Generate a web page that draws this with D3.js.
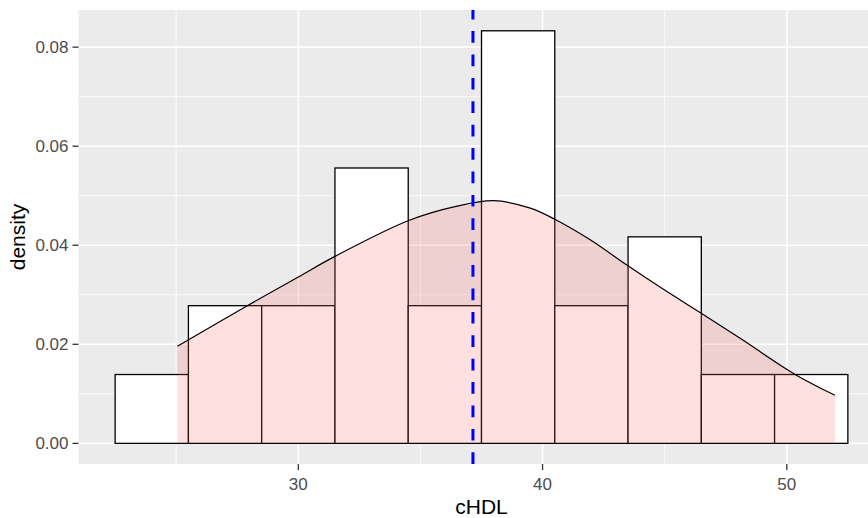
<!DOCTYPE html>
<html>
<head>
<meta charset="utf-8">
<script src="https://cdn.jsdelivr.net/npm/d3@7"></script>
<style>
  body { margin: 0; background: #fff; }
  svg { display: block; font-family: "Liberation Sans", Arial, sans-serif; }
</style>
</head>
<body>
<svg id="chart" width="868" height="518"></svg>
<script>
// histogram bins (left edge, width 3) and their density heights
const binStarts = [22.5, 25.5, 28.5, 31.5, 34.5, 37.5, 40.5, 43.5, 46.5, 49.5];
const binWidth = 3;
const binDensity = [0.0139, 0.0278, 0.0278, 0.0556, 0.0278, 0.0833, 0.0278, 0.0417, 0.0139, 0.0139];

// kernel density curve
const densX = [25.05, 27.84, 30.0, 31.52, 34.52, 36.5, 38.0, 39.5, 40.48, 41.95, 43.48, 44.95, 46.45, 48.09, 50.34, 51.97];
const densY = [0.0196, 0.0276, 0.0336, 0.0378, 0.0450, 0.0479, 0.0490, 0.0475, 0.0453, 0.0411, 0.0359, 0.0311, 0.0264, 0.0212, 0.0139, 0.0097];

// mean of cHDL (dashed line)
const meanHDL = 37.15;

// tick labels
const xTicks = [30, 40, 50];
const xMinor = [25, 35, 45];
const yTicks = [0, 0.02, 0.04, 0.06, 0.08];
const yMinor = [0.01, 0.03, 0.05, 0.07];

const svg = d3.select('#chart');

const panel = { left: 78.5, right: 884.5, top: 10, bottom: 464 };

const x = d3.scaleLinear().domain([21, 54]).range([panel.left, panel.right]);
const y = d3.scaleLinear().domain([-0.0041667, 0.0875]).range([panel.bottom, panel.top]);

// grey panel
svg.append('rect')
  .attr('x', panel.left)
  .attr('y', panel.top)
  .attr('width', panel.right - panel.left)
  .attr('height', panel.bottom - panel.top)
  .attr('fill', '#EBEBEB');

// grid lines, minor first
const grid = svg.append('g');
grid.selectAll('.ymin').data(yMinor).enter().append('line')
  .attr('x1', panel.left).attr('x2', panel.right)
  .attr('y1', (d) => y(d)).attr('y2', (d) => y(d))
  .attr('stroke', '#fff').attr('stroke-width', 0.8);
grid.selectAll('.xmin').data(xMinor).enter().append('line')
  .attr('y1', panel.top).attr('y2', panel.bottom)
  .attr('x1', (d) => x(d)).attr('x2', (d) => x(d))
  .attr('stroke', '#fff').attr('stroke-width', 0.8);
grid.selectAll('.ymaj').data(yTicks).enter().append('line')
  .attr('x1', panel.left).attr('x2', panel.right)
  .attr('y1', (d) => y(d)).attr('y2', (d) => y(d))
  .attr('stroke', '#fff').attr('stroke-width', 1.6);
grid.selectAll('.xmaj').data(xTicks).enter().append('line')
  .attr('y1', panel.top).attr('y2', panel.bottom)
  .attr('x1', (d) => x(d)).attr('x2', (d) => x(d))
  .attr('stroke', '#fff').attr('stroke-width', 1.6);

// histogram bars
svg.append('g')
  .selectAll('rect')
  .data(binStarts)
  .enter()
  .append('rect')
  .attr('x', (d) => x(d))
  .attr('width', x(binWidth) - x(0))
  .attr('y', (d, i) => y(binDensity[i]))
  .attr('height', (d, i) => y(0) - y(binDensity[i]))
  .attr('fill', '#fff')
  .attr('stroke', '#000')
  .attr('stroke-width', 1.3);

// density area + outline
const pts = densX.map((d, i) => [d, densY[i]]);
svg.append('path')
  .datum(pts)
  .attr('d', d3.area()
    .x((d) => x(d[0]))
    .y0(y(0))
    .y1((d) => y(d[1]))
    .curve(d3.curveCatmullRom))
  .attr('fill', '#FF6666')
  .attr('fill-opacity', 0.2);

svg.append('path')
  .datum(pts)
  .attr('d', d3.line()
    .x((d) => x(d[0]))
    .y((d) => y(d[1]))
    .curve(d3.curveCatmullRom))
  .attr('fill', 'none')
  .attr('stroke', '#000')
  .attr('stroke-width', 1.2);

// mean line, drawn bottom to top like ggplot
svg.append('line')
  .attr('x1', x(meanHDL)).attr('x2', x(meanHDL))
  .attr('y1', panel.bottom).attr('y2', panel.top)
  .attr('stroke', '#0000FF')
  .attr('stroke-width', 3)
  .attr('stroke-dasharray', '11.7 11.7');

// axes ticks + labels
const axes = svg.append('g');
axes.selectAll('.yt').data(yTicks).enter().append('line')
  .attr('x1', panel.left - 6).attr('x2', panel.left)
  .attr('y1', (d) => y(d)).attr('y2', (d) => y(d))
  .attr('stroke', '#333').attr('stroke-width', 1.3);
axes.selectAll('.yl').data(yTicks).enter().append('text')
  .attr('x', panel.left - 10)
  .attr('y', (d) => y(d) + 6)
  .attr('text-anchor', 'end')
  .attr('font-size', 17)
  .attr('fill', '#4D4D4D')
  .text((d) => d3.format('.2f')(d));

axes.selectAll('.xt').data(xTicks).enter().append('line')
  .attr('y1', panel.bottom).attr('y2', panel.bottom + 6)
  .attr('x1', (d) => x(d)).attr('x2', (d) => x(d))
  .attr('stroke', '#333').attr('stroke-width', 1.3);
axes.selectAll('.xl').data(xTicks).enter().append('text')
  .attr('x', (d) => x(d))
  .attr('y', 489.5)
  .attr('text-anchor', 'middle')
  .attr('font-size', 17)
  .attr('fill', '#4D4D4D')
  .text((d) => d);

// axis titles
svg.append('text')
  .attr('x', (panel.left + panel.right) / 2)
  .attr('y', 514)
  .attr('text-anchor', 'middle')
  .attr('font-size', 21)
  .attr('fill', '#000')
  .text('cHDL');

svg.append('text')
  .attr('transform', `translate(25,${(panel.top + panel.bottom) / 2}) rotate(-90)`)
  .attr('text-anchor', 'middle')
  .attr('font-size', 21)
  .attr('fill', '#000')
  .text('density');
</script>
</body>
</html>
